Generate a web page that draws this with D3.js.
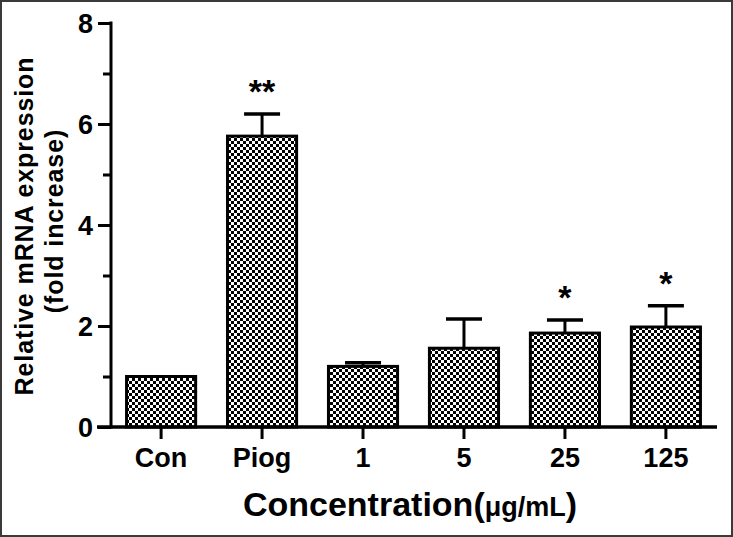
<!DOCTYPE html>
<html><head><meta charset="utf-8">
<script src="https://cdn.jsdelivr.net/npm/d3@7"></script>
<style>html,body{margin:0;padding:0;background:#fff;}svg{display:block;}</style>
</head><body>
<script>
const categories = ["Con", "Piog", "1", "5", "25", "125"];
const means = [1.0, 5.76, 1.2, 1.56, 1.86, 1.98];
const errors = [0.0, 0.44, 0.07, 0.58, 0.26, 0.42];
const marks = ["", "**", "", "", "*", "*"];
const yTicks = [0, 2, 4, 6, 8];
const yMinor = [1, 3, 5, 7];

const W = 733, H = 537;
const svg = d3.select("body").append("svg").attr("width", W).attr("height", H);
svg.append("rect").attr("x", 1).attr("y", 1).attr("width", W - 2).attr("height", H - 2)
  .attr("fill", "#fff").attr("stroke", "#3a3a3a").attr("stroke-width", 2);

const defs = svg.append("defs");
const pat = defs.append("pattern").attr("id", "chk").attr("patternUnits", "userSpaceOnUse")
  .attr("width", 6).attr("height", 6);
pat.append("rect").attr("width", 6).attr("height", 6).attr("fill", "#fff");
pat.append("rect").attr("x", 0).attr("y", 0).attr("width", 3).attr("height", 3).attr("fill", "#000");
pat.append("rect").attr("x", 3).attr("y", 3).attr("width", 3).attr("height", 3).attr("fill", "#000");

const x = d3.scaleBand().domain(categories).range([111, 716]).paddingInner(0.3155).paddingOuter(0.154);
const y = d3.scaleLinear().domain([0, 8]).range([427, 23]);
const font = "'Liberation Sans', Arial, sans-serif";

// bars
svg.selectAll(".bar").data(categories).enter().append("rect")
  .attr("x", d => x(d)).attr("width", x.bandwidth())
  .attr("y", (d, i) => y(means[i])).attr("height", (d, i) => y(0) - y(means[i]))
  .attr("fill", "url(#chk)").attr("stroke", "#000").attr("stroke-width", 3);

// error bars
const eb = svg.selectAll(".eb").data(categories).enter().append("g");
eb.filter((d, i) => errors[i] > 0).append("line")
  .attr("x1", d => x(d) + x.bandwidth() / 2).attr("x2", d => x(d) + x.bandwidth() / 2)
  .attr("y1", (d, i) => y(means[categories.indexOf(d)]))
  .attr("y2", d => { const i = categories.indexOf(d); return y(means[i] + errors[i]); })
  .attr("stroke", "#000").attr("stroke-width", 3);
eb.filter((d, i) => errors[i] > 0).append("line")
  .attr("x1", d => x(d) + x.bandwidth() / 2 - 18).attr("x2", d => x(d) + x.bandwidth() / 2 + 18)
  .attr("y1", d => { const i = categories.indexOf(d); return y(means[i] + errors[i]); })
  .attr("y2", d => { const i = categories.indexOf(d); return y(means[i] + errors[i]); })
  .attr("stroke", "#000").attr("stroke-width", 3.5);

// significance marks
svg.selectAll(".sig").data(categories).enter().append("text")
  .attr("x", d => x(d) + x.bandwidth() / 2)
  .attr("y", d => { const i = categories.indexOf(d); return y(means[i] + errors[i]) - 11; })
  .attr("text-anchor", "middle").attr("font-family", font).attr("font-weight", "bold")
  .attr("font-size", 34).attr("fill", "#000")
  .text((d, i) => marks[i]);

// y axis
const yAxis = d3.axisLeft(y).tickValues(yTicks).tickSize(13).tickPadding(5).tickFormat(d3.format("d"));
const gy = svg.append("g").attr("transform", "translate(111,0)").call(yAxis);
gy.select(".domain").remove();
gy.append("line").attr("x1", 0).attr("x2", 0).attr("y1", y(8) - 1.5).attr("y2", y(0) + 1.5)
  .attr("stroke", "#000").attr("stroke-width", 3);
gy.selectAll(".tick line").attr("stroke", "#000").attr("stroke-width", 3);
gy.selectAll(".tick text").attr("font-family", font).attr("font-weight", "bold")
  .attr("font-size", 27).attr("fill", "#000").attr("dy", "0.35em");
const gym = svg.append("g").attr("transform", "translate(111,0)")
  .call(d3.axisLeft(y).tickValues(yMinor).tickSize(8).tickFormat(""));
gym.select(".domain").remove();
gym.selectAll(".tick line").attr("stroke", "#000").attr("stroke-width", 3);

// x axis
const xAxis = d3.axisBottom(x).tickSize(12).tickPadding(9);
const gx = svg.append("g").attr("transform", "translate(0,427)").call(xAxis);
gx.select(".domain").remove();
gx.append("line").attr("x1", 97).attr("x2", 717).attr("y1", 0).attr("y2", 0)
  .attr("stroke", "#000").attr("stroke-width", 3.5);
gx.selectAll(".tick line").attr("stroke", "#000").attr("stroke-width", 3);
gx.selectAll(".tick text").attr("font-family", font).attr("font-weight", "bold")
  .attr("font-size", 27).attr("fill", "#000").attr("dy", "0.71em");

// x title
const xt = svg.append("text").attr("x", 410).attr("y", 516).attr("text-anchor", "middle")
  .attr("font-family", font).attr("font-weight", "bold").attr("fill", "#000");
xt.append("tspan").attr("font-size", 34).text("Concentration(");
xt.append("tspan").attr("font-size", 27).text("μg/mL");
xt.append("tspan").attr("font-size", 34).text(")");

// y title
const yt = svg.append("g").attr("transform", "translate(0,226) rotate(-90)");
yt.append("text").attr("x", 0).attr("y", 33).attr("text-anchor", "middle")
  .attr("font-family", font).attr("font-weight", "bold").attr("font-size", 25).attr("fill", "#000")
  .attr("letter-spacing", 0.9)
  .text("Relative mRNA expression");
yt.append("text").attr("x", 5).attr("y", 63).attr("text-anchor", "middle")
  .attr("font-family", font).attr("font-weight", "bold").attr("font-size", 25).attr("fill", "#000")
  .attr("letter-spacing", 0.9)
  .text("(fold increase)");
</script>
</body></html>
